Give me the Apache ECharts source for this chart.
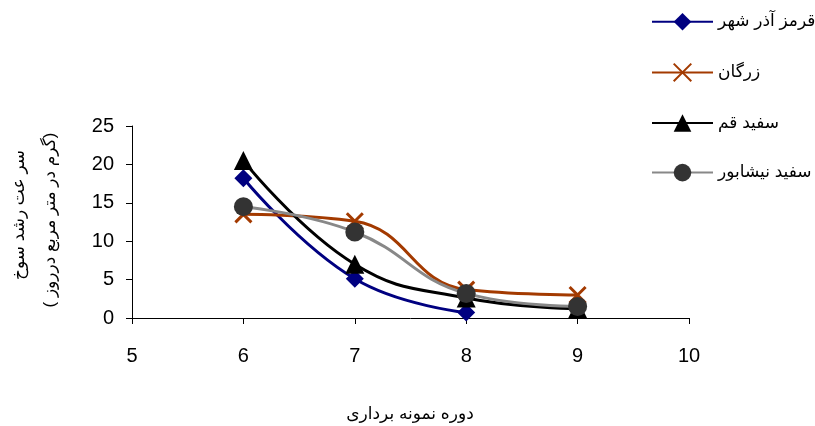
<!DOCTYPE html>
<html>
<head>
<meta charset="utf-8">
<script src="https://cdn.jsdelivr.net/npm/echarts@6/dist/echarts.min.js"></script>
<style>
html,body{margin:0;padding:0;background:#fff;}
#c{width:815px;height:426px;}
</style>
</head>
<body>
<div id="c"></div>
<script>
var periods = [6, 7, 8, 9];
var seriesNames = ['قرمز آذر شهر', 'زرگان', 'سفید قم', 'سفید نیشابور'];
var qermezAzarshahr = [18.2, 5.1, 0.7, null];
var zargan = [13.5, 12.6, 3.7, 3.0];
var sefidQom = [20.5, 7.0, 2.6, 1.2];
var sefidNeyshabur = [14.5, 11.2, 3.2, 1.5];
var xTicks = [5, 6, 7, 8, 9, 10];
var yTicks = [0, 5, 10, 15, 20, 25];
var xTitle = 'دوره نمونه برداری';
var yTitle1 = 'سر عت رشد سوخ';
var yTitle2 = '( گرم در متر مربع درروز)';

function pairs(vals) {
  var out = [];
  periods.forEach(function (p, i) { if (vals[i] !== null) out.push([p, vals[i]]); });
  return out;
}

var FONT = '"Liberation Sans", "DejaVu Sans", Arial, sans-serif';
var chart = echarts.init(document.getElementById('c'), null, {renderer: 'canvas'});
chart.setOption({
  backgroundColor: '#ffffff',
  animation: false,
  textStyle: {fontFamily: FONT, color: '#000'},
  grid: {left: 132, right: 126, top: 126, bottom: 108, containLabel: false},
  legend: {
    orient: 'vertical', left: 646, top: 8, itemWidth: 61, itemHeight: 22, itemGap: 32,
    textStyle: {fontSize: 17, color: '#000', fontFamily: FONT},
    data: seriesNames
  },
  xAxis: {
    type: 'value', min: xTicks[0], max: xTicks[xTicks.length - 1], interval: 1,
    axisLine: {show: true, lineStyle: {color: '#000', width: 1}},
    axisTick: {show: true, length: 6, lineStyle: {color: '#000'}},
    axisLabel: {fontSize: 20, color: '#000', margin: 28, fontFamily: FONT},
    splitLine: {show: false}
  },
  yAxis: {
    type: 'value', min: yTicks[0], max: yTicks[yTicks.length - 1], interval: 5,
    axisLine: {show: true, lineStyle: {color: '#000', width: 1}},
    axisTick: {show: true, length: 6, lineStyle: {color: '#000'}},
    axisLabel: {fontSize: 20, color: '#000', margin: 18, fontFamily: FONT},
    splitLine: {show: false}
  },
  graphic: [
    {type: 'text', x: 410, y: 414, style: {text: xTitle, fontSize: 17, fill: '#000', align: 'center', verticalAlign: 'middle', fontFamily: FONT}},
    {type: 'text', x: 19, y: 215, rotation: Math.PI / 2, style: {text: yTitle1, fontSize: 17, fill: '#000', align: 'center', verticalAlign: 'middle', fontFamily: FONT}},
    {type: 'text', x: 50, y: 220, rotation: Math.PI / 2, style: {text: yTitle2, fontSize: 17, fill: '#000', align: 'center', verticalAlign: 'middle', fontFamily: FONT}}
  ],
  series: [
    {name: seriesNames[0], type: 'line', smooth: 0.45, data: pairs(qermezAzarshahr),
     symbol: 'diamond', symbolSize: 18,
     lineStyle: {color: '#000080', width: 3}, itemStyle: {color: '#000080', borderWidth: 0}},
    {name: seriesNames[1], type: 'line', smooth: 0.45, data: pairs(zargan),
     symbol: 'path://M0,0L10,10M10,0L0,10', symbolSize: 16,
     lineStyle: {color: '#A33A00', width: 3}, itemStyle: {color: '#A33A00', borderColor: '#A33A00', borderWidth: 3}},
    {name: seriesNames[2], type: 'line', smooth: 0.45, data: pairs(sefidQom),
     symbol: 'triangle', symbolSize: 19,
     lineStyle: {color: '#000000', width: 3}, itemStyle: {color: '#000000', borderWidth: 0}},
    {name: seriesNames[3], type: 'line', smooth: 0.45, data: pairs(sefidNeyshabur),
     symbol: 'circle', symbolSize: 19,
     lineStyle: {color: '#888888', width: 3}, itemStyle: {color: '#333333', borderWidth: 0}}
  ]
});
</script>
</body>
</html>
